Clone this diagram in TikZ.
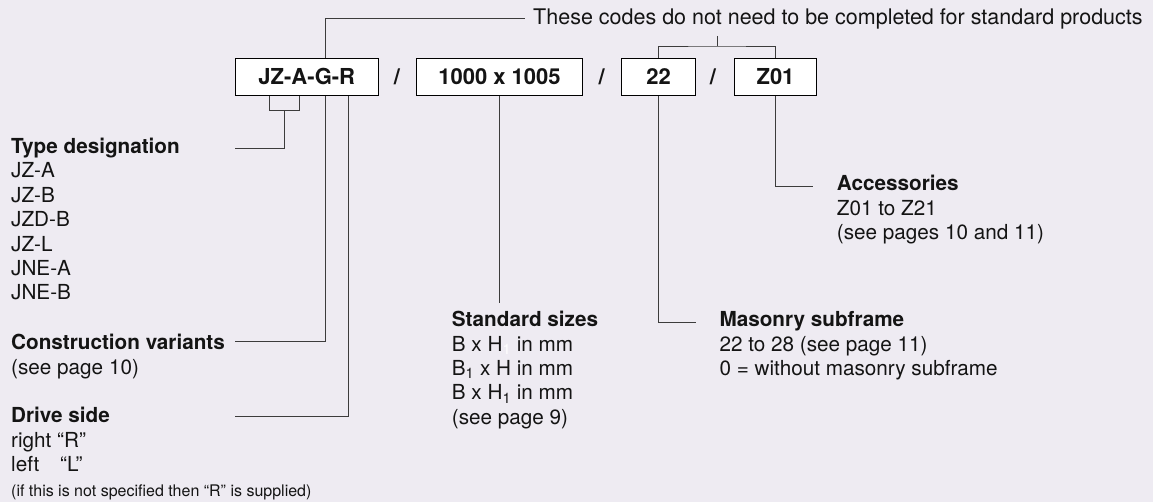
\documentclass[tikz,border=0pt]{standalone}
\usepackage{fontspec}
\setmainfont{TeX Gyre Heros}
\usetikzlibrary{calc}
\definecolor{bg}{RGB}{238,235,242}
\definecolor{txt}{RGB}{20,20,20}
\definecolor{linecol}{RGB}{60,60,60}
\newcommand{\fsz}{\fontsize{20.7pt}{24.4pt}\selectfont}
\newcommand{\fhdr}{\fontsize{21.5pt}{24.4pt}\selectfont}
\newcommand{\fboxtxt}{\fontsize{22pt}{24.4pt}\selectfont}
\newcommand{\fsmall}{\fontsize{16pt}{20pt}\selectfont}
\begin{document}
\begin{tikzpicture}[x=1pt,y=-1pt,
  box/.style={draw=black, line width=1.1pt, fill=white, text=txt, font=\fboxtxt\bfseries, inner sep=0pt, minimum height=37pt},
  slash/.style={text=txt, font=\fboxtxt\bfseries, inner sep=0pt},
  lead/.style={draw=linecol, line width=0.9pt},
  lbl/.style={anchor=base west, align=left, inner sep=0pt, text=txt, font=\fsz},
  hdrstyle/.style={anchor=base west, inner xsep=8pt, inner ysep=0pt, text=txt, font=\fhdr}]
\fill[bg] (0,0) rectangle (1153,502);
\useasboundingbox (0,0) rectangle (1153,502);

% boxes
\node[box, minimum width=143pt] (b1) at (306.8,76.8) {JZ-A-G-R};
\node[slash] (s1) at (397,77) {/};
\node[box, minimum width=165.6pt] (b2) at (499.5,76.8) {1000 x 1005};
\node[slash] (s2) at (601.7,77) {/};
\node[box, minimum width=74pt] (b3) at (658.7,76.8) {22};
\node[slash] (s3) at (713,77) {/};
\node[box, minimum width=82.4pt] (b4) at (775.5,76.8) {Z01};

% header
\node[hdrstyle] (hdr) at (525,25) {These codes do not need to be completed for standard products};

% labels (anchored at the baseline of the last line)
\node[lbl] (t1) at (11,300) {\textbf{Type designation}\\JZ-A\\JZ-B\\JZD-B\\JZ-L\\JNE-A\\JNE-B};
\node[lbl] (t2) at (11,374) {\textbf{Construction variants}\\(see page 10)};
\node[lbl] (t3) at (11,471.7) {\textbf{Drive side}\\right “R”\\\makebox[49pt][l]{left}“L”};
\node[lbl, font=\fsmall] (t3b) at (11,496.7) {(if this is not specified then “R” is supplied)};
\node[lbl] (t4) at (451.7,424.3) {\textbf{Standard sizes}\\B x H{\color{white}\textsubscript{1}} in mm\\B\textsubscript{1} x H in mm\\B x H\textsubscript{1} in mm\\(see page 9)};
\node[lbl] (t5) at (719.3,375.5) {\textbf{Masonry subframe}\\22 to 28 (see page 11)\\0 = without masonry subframe};
\node[lbl] (t6) at (836.7,239.5) {\textbf{Accessories}\\Z01 to Z21\\(see pages 10 and 11)};

% coordinates
\coordinate (ctop) at (325.7,18);
\coordinate (bkt) at (717.3,36);
\coordinate (bk) at (717.3,46);
\coordinate (tl) at (269.3,110.7);
\coordinate (tr) at (299.3,110.7);
\coordinate (tm) at (284.3,110.7);
\coordinate (e1) at (235.3,148.7);
\coordinate (e2) at (235.3,341.7);
\coordinate (e3x) at (348.7,416.7);
\coordinate (e3) at (235.3,416.7);
\coordinate (e4) at (499.5,303.3);
\coordinate (e5) at (696,322.7);
\coordinate (e6) at (813.3,186.7);

% connectors
\draw[lead] (b1.north -| ctop) -- (ctop) -- (ctop -| hdr.west);
\draw[lead] (bkt) -- (bk);
\draw[lead] (b3.north) |- (bk) -| (b4.north);
\draw[lead] (b1.south -| tl) -- (tl) -- (tr) -- (b1.south -| tr);
\draw[lead] (tm) |- (e1);
\draw[lead] (b1.south -| ctop) |- (e2);
\draw[lead] (b1.south -| e3x) -- (e3x) -- (e3);
\draw[lead] (b2.south) -- (e4);
\draw[lead] (b3.south) |- (e5);
\draw[lead] (b4.south) |- (e6);
\end{tikzpicture}
\end{document}
